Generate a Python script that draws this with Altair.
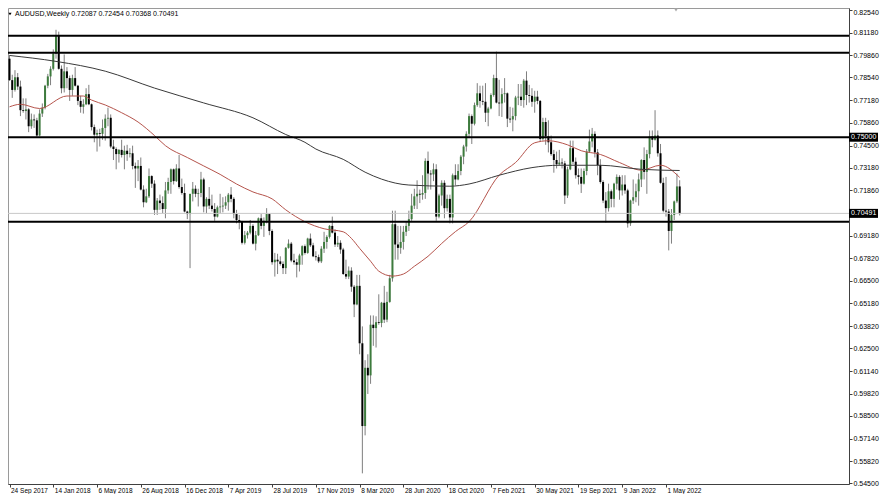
import altair as alt
import pandas as pd

# ---------------- data (weekly AUDUSD candles, 24 Sep 2017 .. 5 Jun 2022) ----------------
OPEN = [0.7965,0.7838,0.7780,0.7855,0.7800,0.7660,0.7655,0.7665,0.7565,0.7605,
        0.7600,0.7510,0.7640,0.7675,0.7805,0.7860,0.7905,0.7995,0.8105,0.7905,
        0.7790,0.7890,0.7850,0.7780,0.7850,0.7805,0.7715,0.7680,0.7695,0.7755,
        0.7695,0.7560,0.7515,0.7525,0.7520,0.7555,0.7610,0.7615,0.7445,0.7430,
        0.7400,0.7425,0.7395,0.7420,0.7400,0.7405,0.7330,0.7315,0.7330,0.7190,
        0.7115,0.7150,0.7270,0.7225,0.7070,0.7125,0.7110,0.7075,0.7185,0.7235,
        0.7310,0.7240,0.7315,0.7205,0.7170,0.7060,0.7045,0.7165,0.7195,0.7165,
        0.7170,0.7250,0.7090,0.7135,0.7095,0.7075,0.7030,0.7085,0.7090,0.7095,
        0.7115,0.7160,0.7135,0.7045,0.7010,0.7000,0.6875,0.6920,0.6935,0.6975,
        0.6870,0.6920,0.7020,0.6975,0.7005,0.7045,0.6945,0.6760,0.6775,0.6765,
        0.6750,0.6725,0.6845,0.6870,0.6770,0.6760,0.6745,0.6800,0.6855,0.6815,
        0.6900,0.6860,0.6795,0.6790,0.6765,0.6840,0.6880,0.6910,0.6975,0.6935,
        0.6865,0.6875,0.6835,0.6690,0.6675,0.6710,0.6615,0.6510,0.6620,0.6280,
        0.5790,0.6135,0.6090,0.6390,0.6370,0.6405,0.6400,0.6520,0.6420,0.6525,
        0.6665,0.6985,0.6865,0.6845,0.6880,0.6940,0.6975,0.7015,0.7095,0.7150,
        0.7165,0.7160,0.7170,0.7360,0.7285,0.7280,0.7310,0.7030,0.7155,0.7230,
        0.7080,0.7135,0.7025,0.7275,0.7250,0.7300,0.7385,0.7445,0.7520,0.7625,
        0.7580,0.7690,0.7760,0.7715,0.7710,0.7645,0.7670,0.7750,0.7850,0.7705,
        0.7700,0.7755,0.7760,0.7610,0.7605,0.7625,0.7735,0.7740,0.7720,0.7835,
        0.7750,0.7745,0.7710,0.7740,0.7715,0.7490,0.7590,0.7505,0.7470,0.7400,
        0.7365,0.7340,0.7350,0.7345,0.7155,0.7310,0.7435,0.7355,0.7275,0.7265,
        0.7225,0.7300,0.7415,0.7475,0.7520,0.7410,0.7335,0.7235,0.7125,0.7080,
        0.7180,0.7135,0.7225,0.7265,0.7185,0.7220,0.7185,0.6990,0.7125,0.7145,
        0.7180,0.7250,0.7365,0.7295,0.7400,0.7505,0.7485,0.7510,0.7405,0.7230,
        0.7065,0.7060,0.6945,0.7040,0.7120,0.72087]
HIGH = [0.7985,0.7870,0.7897,0.7880,0.7835,0.7730,0.7730,0.7672,0.7640,0.7635,
        0.7615,0.7665,0.7700,0.7810,0.7875,0.7920,0.8020,0.8136,0.8125,0.7925,
        0.7990,0.7915,0.7865,0.7870,0.7915,0.7810,0.7745,0.7725,0.7790,0.7810,
        0.7700,0.7575,0.7545,0.7550,0.7605,0.7635,0.7675,0.7635,0.7485,0.7440,
        0.7430,0.7485,0.7450,0.7455,0.7435,0.7450,0.7350,0.7365,0.7380,0.7215,
        0.7195,0.7315,0.7275,0.7245,0.7140,0.7160,0.7150,0.7235,0.7260,0.7315,
        0.7315,0.7340,0.7395,0.7255,0.7225,0.7065,0.7115,0.7235,0.7215,0.7195,
        0.7295,0.7260,0.7145,0.7205,0.7160,0.7110,0.7095,0.7165,0.7145,0.7150,
        0.7170,0.7205,0.7145,0.7070,0.7040,0.7005,0.6945,0.6945,0.7010,0.6985,
        0.6945,0.7025,0.7045,0.7025,0.7080,0.7050,0.6955,0.6815,0.6810,0.6795,
        0.6765,0.6850,0.6895,0.6880,0.6810,0.6780,0.6810,0.6860,0.6865,0.6905,
        0.6930,0.6875,0.6825,0.6805,0.6855,0.6940,0.6920,0.6980,0.7030,0.6955,
        0.6915,0.6890,0.6845,0.6775,0.6735,0.6730,0.6625,0.6685,0.6685,0.6380,
        0.6180,0.6215,0.6445,0.6445,0.6440,0.6570,0.6525,0.6620,0.6585,0.6685,
        0.7065,0.7065,0.6975,0.6975,0.6975,0.7000,0.7065,0.7165,0.7195,0.7245,
        0.7190,0.7275,0.7375,0.7415,0.7305,0.7345,0.7340,0.7165,0.7245,0.7245,
        0.7160,0.7160,0.7285,0.7340,0.7340,0.7395,0.7455,0.7535,0.7640,0.7635,
        0.7705,0.7820,0.7805,0.7805,0.7820,0.7680,0.7760,0.7870,0.8007,0.7840,
        0.7790,0.7850,0.7765,0.7680,0.7675,0.7745,0.7815,0.7815,0.7845,0.7890,
        0.7810,0.7790,0.7775,0.7775,0.7720,0.7615,0.7615,0.7600,0.7510,0.7425,
        0.7415,0.7425,0.7375,0.7360,0.7325,0.7480,0.7480,0.7380,0.7315,0.7315,
        0.7315,0.7430,0.7545,0.7555,0.7535,0.7430,0.7370,0.7245,0.7175,0.7225,
        0.7190,0.7230,0.7280,0.7275,0.7275,0.7275,0.7195,0.7130,0.7250,0.7225,
        0.7285,0.7370,0.7440,0.7425,0.7540,0.7540,0.7660,0.7540,0.7460,0.7260,
        0.7265,0.7075,0.7075,0.7125,0.7285,0.72454]
LOW = [0.7834,0.7733,0.7770,0.7780,0.7625,0.7645,0.7605,0.7530,0.7550,0.7555,
       0.7501,0.7505,0.7620,0.7665,0.7790,0.7808,0.7895,0.7965,0.7900,0.7760,
       0.7765,0.7790,0.7715,0.7745,0.7800,0.7690,0.7645,0.7640,0.7690,0.7690,
       0.7540,0.7470,0.7415,0.7445,0.7485,0.7480,0.7565,0.7435,0.7365,0.7310,
       0.7350,0.7380,0.7310,0.7360,0.7380,0.7310,0.7200,0.7240,0.7185,0.7085,
       0.7110,0.7140,0.7200,0.7040,0.7040,0.7070,0.7050,0.7020,0.7165,0.7165,
       0.7220,0.7235,0.7195,0.7160,0.7055,0.7015,0.6725,0.7120,0.7145,0.7090,
       0.7145,0.7055,0.7050,0.7075,0.7060,0.7005,0.7025,0.7050,0.7055,0.7075,
       0.7065,0.7115,0.7020,0.6990,0.6955,0.6865,0.6865,0.6900,0.6925,0.6865,
       0.6830,0.6915,0.6955,0.6910,0.6990,0.6920,0.6745,0.6675,0.6690,0.6740,
       0.6690,0.6690,0.6840,0.6760,0.6745,0.6670,0.6705,0.6745,0.6805,0.6810,
       0.6850,0.6790,0.6770,0.6755,0.6755,0.6815,0.6840,0.6900,0.6930,0.6850,
       0.6850,0.6810,0.6685,0.6660,0.6660,0.6585,0.6435,0.6505,0.6215,0.5510,
       0.5735,0.5980,0.6040,0.6265,0.6255,0.6390,0.6375,0.6400,0.6405,0.6520,
       0.6645,0.6775,0.6775,0.6810,0.6835,0.6915,0.6945,0.7005,0.7075,0.7075,
       0.7110,0.7130,0.7135,0.7190,0.7190,0.7240,0.7005,0.7020,0.7095,0.7020,
       0.7060,0.6990,0.6990,0.7215,0.7245,0.7275,0.7340,0.7415,0.7495,0.7460,
       0.7570,0.7680,0.7675,0.7690,0.7590,0.7565,0.7665,0.7740,0.7700,0.7625,
       0.7620,0.7705,0.7560,0.7585,0.7535,0.7600,0.7690,0.7685,0.7675,0.7690,
       0.7705,0.7680,0.7645,0.7695,0.7475,0.7480,0.7455,0.7410,0.7390,0.7290,
       0.7315,0.7330,0.7315,0.7105,0.7140,0.7305,0.7340,0.7255,0.7220,0.7170,
       0.7220,0.7275,0.7410,0.7440,0.7380,0.7275,0.7225,0.7110,0.6995,0.7060,
       0.7085,0.7085,0.7190,0.7130,0.7155,0.7165,0.6965,0.6975,0.7105,0.7115,
       0.7095,0.7205,0.7250,0.7165,0.7375,0.7440,0.7480,0.7385,0.7225,0.7055,
       0.7030,0.6830,0.6870,0.7010,0.7110,0.70368]
CLOSE = [0.7838,0.7780,0.7855,0.7800,0.7660,0.7655,0.7665,0.7565,0.7605,0.7600,
         0.7510,0.7640,0.7675,0.7805,0.7860,0.7905,0.7995,0.8105,0.7905,0.7790,
         0.7890,0.7850,0.7780,0.7850,0.7805,0.7715,0.7680,0.7695,0.7755,0.7695,
         0.7560,0.7515,0.7525,0.7520,0.7555,0.7610,0.7615,0.7445,0.7430,0.7400,
         0.7425,0.7395,0.7420,0.7400,0.7405,0.7330,0.7315,0.7330,0.7190,0.7115,
         0.7150,0.7270,0.7225,0.7070,0.7125,0.7110,0.7075,0.7185,0.7235,0.7310,
         0.7240,0.7315,0.7205,0.7170,0.7060,0.7045,0.7165,0.7195,0.7165,0.7170,
         0.7250,0.7090,0.7135,0.7095,0.7075,0.7030,0.7085,0.7090,0.7095,0.7115,
         0.7160,0.7135,0.7045,0.7010,0.7000,0.6875,0.6920,0.6935,0.6975,0.6870,
         0.6920,0.7020,0.6975,0.7005,0.7045,0.6945,0.6760,0.6775,0.6765,0.6750,
         0.6725,0.6845,0.6870,0.6770,0.6760,0.6745,0.6800,0.6855,0.6815,0.6900,
         0.6860,0.6795,0.6790,0.6765,0.6840,0.6880,0.6910,0.6975,0.6935,0.6865,
         0.6875,0.6835,0.6690,0.6675,0.6710,0.6615,0.6510,0.6620,0.6280,0.5790,
         0.6135,0.6090,0.6390,0.6370,0.6405,0.6400,0.6520,0.6420,0.6525,0.6665,
         0.6985,0.6865,0.6845,0.6880,0.6940,0.6975,0.7015,0.7095,0.7150,0.7165,
         0.7160,0.7170,0.7360,0.7285,0.7280,0.7310,0.7030,0.7155,0.7230,0.7080,
         0.7135,0.7025,0.7275,0.7250,0.7300,0.7385,0.7445,0.7520,0.7625,0.7580,
         0.7690,0.7760,0.7715,0.7710,0.7645,0.7670,0.7750,0.7850,0.7705,0.7700,
         0.7755,0.7760,0.7610,0.7605,0.7625,0.7735,0.7740,0.7720,0.7835,0.7750,
         0.7745,0.7710,0.7740,0.7715,0.7490,0.7590,0.7505,0.7470,0.7400,0.7365,
         0.7340,0.7350,0.7345,0.7155,0.7310,0.7435,0.7355,0.7275,0.7265,0.7225,
         0.7300,0.7415,0.7475,0.7520,0.7410,0.7335,0.7235,0.7125,0.7080,0.7180,
         0.7135,0.7225,0.7265,0.7185,0.7220,0.7185,0.6990,0.7125,0.7145,0.7180,
         0.7250,0.7365,0.7295,0.7400,0.7505,0.7485,0.7510,0.7405,0.7230,0.7065,
         0.7060,0.6945,0.7040,0.7120,0.72087,0.70491]

# moving averages (week index, value)
MA_RED_IDX = [0, 4, 11, 21, 27, 30, 35, 41, 47, 53, 57, 65, 71, 77, 83, 89, 96, 101,
              108, 115, 122, 125, 128, 132, 135, 140, 144, 148, 153, 158, 163, 168,
              179, 185, 192, 197, 204, 209, 216, 223, 231, 238, 245]
MA_RED_VAL = [0.7680, 0.7695, 0.7670, 0.7744, 0.7744, 0.7720, 0.7691, 0.7645, 0.7590,
              0.7510, 0.7450, 0.7380, 0.7330, 0.7280, 0.7223, 0.7176, 0.7135, 0.7070,
              0.7000, 0.6958, 0.6940, 0.6901, 0.6842, 0.6766, 0.6707, 0.6678, 0.6690,
              0.6736, 0.6795, 0.6871, 0.6941, 0.7000, 0.7275, 0.7350, 0.7467, 0.7479,
              0.7455, 0.7420, 0.7398, 0.7350, 0.7305, 0.7334, 0.7262]
MA_BLACK_IDX = [0, 17, 35, 53, 71, 89, 101, 108, 112, 122, 130, 136, 146, 161, 168,
                179, 191, 201, 216, 231, 245]
MA_BLACK_VAL = [0.7984, 0.7949, 0.7891, 0.7791, 0.7703, 0.7615, 0.7516, 0.7470, 0.7430,
                0.7369, 0.7293, 0.7252, 0.7217, 0.7210, 0.7223, 0.7275, 0.7320, 0.7334,
                0.7334, 0.7310, 0.7303]

DATE_LABELS = ["24 Sep 2017", "14 Jan 2018", "6 May 2018", "26 Aug 2018", "16 Dec 2018",
               "7 Apr 2019", "28 Jul 2019", "17 Nov 2019", "8 Mar 2020", "28 Jun 2020",
               "18 Oct 2020", "7 Feb 2021", "30 May 2021", "19 Sep 2021", "9 Jan 2022",
               "1 May 2022"]
DATE_STEP = 16
PRICE_TICKS = [0.82540, 0.81180, 0.79860, 0.78540, 0.77180, 0.75860, 0.74500, 0.73180,
               0.71860, 0.69180, 0.67820, 0.66500, 0.65180, 0.63820, 0.62500, 0.61140,
               0.59820, 0.58500, 0.57140, 0.55820, 0.54500]
LEVELS = [0.8100, 0.8000, 0.7500, 0.7000]
BID = 0.70491
BOX_PRICES = [0.75000, 0.70491]
BOX_TEXT = ["0.75000", "0.70491"]
HEADER = "AUDUSD,Weekly  0.72087 0.72454 0.70368 0.70491"

# ---------------- chart ----------------
W, H = 841, 476
PAD_R = 31
FONT = "Liberation Sans"
BULL = "#3d7b3d"
BEAR = "#000000"
WICK = "#7f7f7f"

n = len(CLOSE)
candles = pd.DataFrame({"idx": list(range(n)), "o": OPEN, "h": HIGH, "l": LOW, "c": CLOSE})
candles["dir"] = ["up" if c >= o else "down" for o, c in zip(OPEN, CLOSE)]
red = pd.DataFrame({"idx": MA_RED_IDX, "v": MA_RED_VAL})
blk = pd.DataFrame({"idx": MA_BLACK_IDX, "v": MA_BLACK_VAL})
levels = pd.DataFrame({"p": LEVELS})
bid = pd.DataFrame({"p": [BID]})
boxes = pd.DataFrame({"p": BOX_PRICES, "t": BOX_TEXT})
head = pd.DataFrame({"t": [HEADER]})

xs = alt.Scale(domain=[-0.55, 306.9], nice=False, zero=False)
ys = alt.Scale(domain=[0.5447, 0.8265], nice=False, zero=False)

label_expr = "[" + ",".join("'%s'" % s for s in DATE_LABELS) + "][round(datum.value/%d)]" % DATE_STEP
x_axis = alt.Axis(values=[i * DATE_STEP for i in range(len(DATE_LABELS))], labelExpr=label_expr,
                  grid=False, tickSize=3, labelPadding=0, labelAlign="left", labelOffset=1,
                  labelFont=FONT, labelFontSize=6.5, labelColor="#000000",
                  domainColor="#404040", tickColor="#404040", labelOverlap=False,
                  labelFlush=False, labelBound=False, title=None)
y_axis = alt.Axis(orient="right", values=PRICE_TICKS, format=".5f", grid=False, tickSize=3,
                  labelPadding=1, labelFont=FONT, labelFontSize=7, labelColor="#000000",
                  labelOffset={"condition": {"test": "datum.value > 0.82", "value": 3}, "value": 0},
                  domainColor="#404040", tickColor="#404040", labelOverlap=False,
                  labelFlush=False, labelBound=False, title=None)


def X(field):
    return alt.X(field, scale=xs, axis=x_axis, title=None)


def Y(field):
    return alt.Y(field, scale=ys, axis=y_axis, title=None)


wicks = alt.Chart(candles).mark_rule(color=WICK, strokeWidth=1).encode(
    x=X("idx:Q"), y=Y("h:Q"), y2="l:Q")
bodies = alt.Chart(candles).mark_rule(strokeWidth=2, strokeCap="butt").encode(
    x=X("idx:Q"), y=Y("o:Q"), y2="c:Q",
    color=alt.Color("dir:N", scale=alt.Scale(domain=["up", "down"], range=[BULL, BEAR]), legend=None),
)
ma_red = alt.Chart(red).mark_line(color="#b5544c", strokeWidth=1, interpolate="monotone").encode(
    x=X("idx:Q"), y=Y("v:Q"))
ma_blk = alt.Chart(blk).mark_line(color="#3a3a3a", strokeWidth=1, interpolate="monotone").encode(
    x=X("idx:Q"), y=Y("v:Q"))
lvl = alt.Chart(levels).mark_rule(color="#000000", strokeWidth=2).encode(
    x=alt.value(0), x2=alt.value(W), y=Y("p:Q"))
bidl = alt.Chart(bid).mark_rule(color="#c8c8c8", strokeWidth=1).encode(
    x=alt.value(0), x2=alt.value(W), y=Y("p:Q"))
box = alt.Chart(boxes).mark_rule(color="#000000", strokeWidth=9, strokeCap="butt").encode(
    x=alt.value(W), x2=alt.value(W + 29), y=Y("p:Q"))
box_t = alt.Chart(boxes).mark_text(align="left", baseline="middle", color="#ffffff",
                                   font=FONT, fontSize=7).encode(
    x=alt.value(W + 2), y=Y("p:Q"), text="t:N")
head_t = alt.Chart(head).mark_text(align="left", baseline="middle", color="#000000",
                                   font=FONT, fontSize=7).encode(
    x=alt.value(7), y=alt.value(6), text="t:N")
head_tri = alt.Chart(head).mark_point(shape="triangle-down", filled=True, size=10,
                                      color="#000000", opacity=1).encode(
    x=alt.value(2), y=alt.value(6))
shift_tri = alt.Chart(head).mark_point(shape="triangle-down", filled=True, size=14,
                                       color="#a8a8a8", opacity=1).encode(
    x=alt.value(668), y=alt.value(2))

chart = alt.layer(wicks, bodies, ma_red, ma_blk, lvl, bidl, box, box_t, head_t, head_tri, shift_tri).properties(
    width=W, height=H,
    autosize=alt.AutoSizeParams(type="none"),
    padding={"left": 0, "top": 0, "right": PAD_R, "bottom": 10},
    background="#ffffff",
).configure_view(stroke="#9a9a9a", strokeWidth=1)

chart.save("out.html", embed_options={"renderer": "svg", "actions": False})
